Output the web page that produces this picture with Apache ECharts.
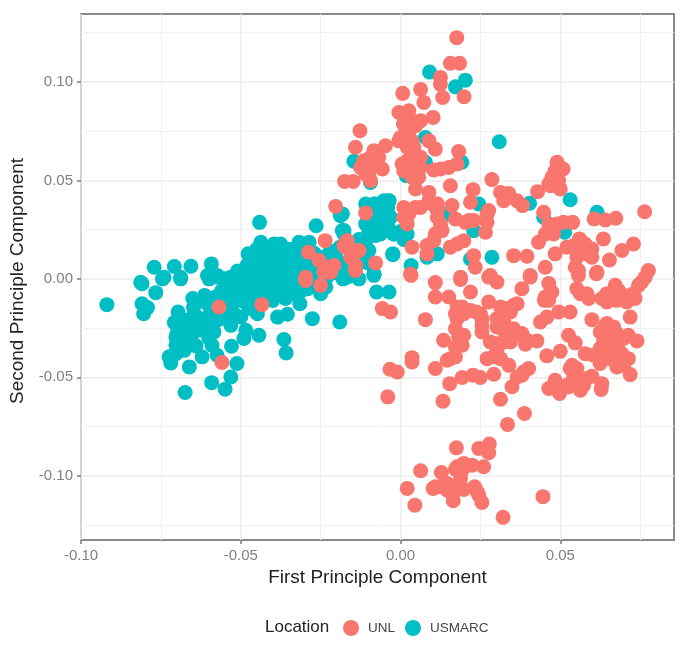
<!DOCTYPE html>
<html><head><meta charset="utf-8">
<style>html,body{margin:0;padding:0;background:#fff}#c{width:685px;height:653px;filter:blur(0.5px)}</style>
<script src="https://cdn.jsdelivr.net/npm/echarts@6/dist/echarts.min.js"></script>
</head><body><div id="c"></div>
<script>
const xMajor=[-0.10,-0.05,0,0.05];
const xMinor=[-0.075,-0.025,0.025,0.075];
const yMajor=[-0.10,-0.05,0,0.05,0.10];
const yMinor=[-0.125,-0.075,-0.025,0.025,0.075,0.125];
const seriesNames=['UNL','USMARC'];
const unl=[[.0176,.1225],[.0156,.1095],[.0185,.1095],[.0125,.1023],[.0125,.0989],[.0199,.0925],[.0132,.0921],[.0007,.0942],[.0063,.0962],[.0073,.0896],[-.0005,.0845],[.0026,.0854],[.0102,.0820],[.0063,.0803],[.0031,.0794],[.0026,.0744],[-.0127,.0752],[-.0141,.0668],[-.0047,.0676],[-.0083,.0651],[0,.0718],[.0036,.0701],[.0089,.0701],[.0109,.0659],[.0182,.0647],[-.0115,.0600],[-.0057,.0558],[-.0099,.0541],[-.0094,.0499],[-.0148,.0495],[-.0175,.0495],[.0005,.0583],[.0010,.0549],[.0042,.0617],[.0057,.0566],[.0057,.0516],[.0104,.0553],[.0151,.0566],[.0177,.0583],[.0156,.0473],[.0047,.0456],[.0089,.0439],[.0227,.0453],[.0219,.0389],[.0286,.0504],[.0313,.0439],[.0339,.0434],[.0323,.0397],[.0365,.0397],[.0382,.0372],[.0429,.0443],[.0490,.0592],[.0509,.0558],[.0474,.0516],[.0464,.0482],[.0500,.0456],[.0448,.0338],[.0764,.0341],[.0606,.0304],[.0641,.0299],[.0674,.0308],[.0510,.0287],[.0539,.0287],[.0469,.0245],[.0432,.0186],[.0479,.0228],[.0560,.0203],[.0635,.0203],[.0521,.0161],[.0563,.0152],[.0599,.0152],[.0484,.0127],[.0729,.0177],[.0693,.0144],[.0654,.0096],[.0599,.0110],[.0547,.0059],[.0776,.0042],[.0615,.0034],[.0453,.0059],[.0406,.0017],[.0354,.0118],[.0396,.0115],[.0281,.0017],[.0229,.0118],[.0234,.0059],[.0188,.0008],[.0198,.0194],[.0156,.0161],[.0276,.0347],[.0271,.0287],[.0266,.0237],[.0229,.0296],[.0203,.0287],[.0172,.0304],[.0161,.0372],[.0115,.0381],[.0115,.0313],[.0130,.0245],[.0104,.0194],[.0083,.0169],[.0083,.0127],[.0036,.0161],[.0063,.0363],[.0010,.0363],[.0021,.0279],[-.0109,.0335],[.0031,.0025],
[-.0203,.0368],[-.0236,.0194],[-.0288,.0135],[-.0255,.0093],[-.0229,.0059],[-.0208,.0068],[-.0172,.0161],[-.0141,.0135],[-.0156,.0110],[-.0141,.0068],[-.0078,.0081],[-.0297,.0008],[-.0177,.0169],[-.0130,.0144],[-.0167,.0194],[-.0156,.0152],
[-.0568,-.0143],[-.0434,-.0131],[-.0559,-.0425],[-.0297,-.0008],[-.0250,-.0033],[-.0240,.0034],[-.0219,.0034],[-.0141,.0043],[-.0057,-.0151],[-.0031,-.0168],[-.0033,-.0459],[-.0010,-.0473],[-.0040,-.0599],
[.0033,.0018],[.0036,-.0400],[.0036,-.0422],[.0109,-.0019],[.0109,-.0092],[.0151,-.0092],[.0188,-.0003],[.0219,-.0067],[.0276,.0009],[.0302,-.0016],[.0380,-.0050],[.0406,.0009],[.0464,-.0024],[.0474,-.0067],[.0450,-.0109],[.0557,.0018],[.0613,.0026],[.0552,-.0050],[.0589,-.0100],[.0630,-.0100],[.0672,-.0033],[.0667,-.0084],[.0698,-.0084],[.0734,-.0100],[.0745,-.0033],[.0766,.0009],[.0719,-.0194],[.0740,-.0315],[.0599,-.0207],[.0641,-.0236],[.0667,-.0244],[.0625,-.0270],[.0661,-.0295],[.0713,-.0286],[.0698,-.0303],[.0531,-.0168],[.0495,-.0168],[.0458,-.0194],[.0438,-.0219],[.0526,-.0286],[.0547,-.0325],[.0500,-.0368],[.0458,-.0391],[.0578,-.0380],[.0620,-.0396],[.0646,-.0362],[.0682,-.0362],[.0713,-.0405],[.0677,-.0447],[.0719,-.0486],[.0693,-.0380],[.0531,-.0455],[.0552,-.0455],[.0599,-.0494],[.0552,-.0515],[.0573,-.0540],[.0563,-.0565],[.0630,-.0532],[.0628,-.0562],[.0484,-.0515],[.0464,-.0557],[.0498,-.0582],[.0526,-.0548],[.0276,-.0117],[.0313,-.0143],[.0365,-.0126],[.0344,-.0168],[.0323,-.0211],[.0302,-.0244],[.0354,-.0253],[.0380,-.0278],[.0427,-.0315],[.0391,-.0332],[.0344,-.0320],[.0302,-.0329],[.0292,-.0396],[.0313,-.0405],[.0339,-.0439],[.0401,-.0455],[.0380,-.0489],[.0349,-.0548],[.0313,-.0611],[.0133,-.0621],[.0388,-.0684],[.0335,-.0739],[.0292,-.0484],[.0250,-.0501],[.0227,-.0489],[.0193,-.0501],[.0154,-.0532],[.0109,-.0455],[.0146,-.0413],[.0172,-.0396],[.0193,-.0337],[.0135,-.0312],[.0198,-.0286],[.0172,-.0253],[.0177,-.0202],[.0193,-.0143],[.0237,-.0168],[.0255,-.0202],[.0255,-.0270],[.0078,-.0207],
[.0175,-.0858],[.0245,-.0861],[.0278,-.0839],[.0276,-.0883],[.0198,-.0937],[.0172,-.0966],[.0260,-.0954],[.0224,-.0946],[.0063,-.0974],[.0128,-.0983],[.0188,-.1013],[.0021,-.1064],[.0102,-.1064],[.0125,-.1056],[.0146,-.1073],[.0198,-.1069],[.0232,-.1056],[.0165,-.1127],[.0245,-.1098],[.0255,-.1135],[.0045,-.1149],[.0446,-.1106],[.0321,-.1211],
[-.0125,.0566],[-.0109,.0532],[-.0083,.0600],[-.0068,.0617],[-.0094,.0617],[.0021,.0668],[.0042,.0668],[.0021,.0600],[.0036,.0566],[.0063,.0617],[.0063,.0566],[.0010,.0701],[-.0005,.0701],[.0026,.0820],[.0047,.0778],[.0010,.0786],[.0036,.0516],[.0125,.0558],[.0484,.0549],[.0495,.0499],[.0469,.0473],[.0099,.0380],[.0089,.0397],[.0047,.0363],[.0026,.0330],[.0010,.0313],[.0115,.0347],[.0125,.0279],[.0109,.0228],[.0177,.0177],[.0271,.0330],[.0214,.0296],[.0464,.0279],[.0453,.0228],[.0490,.0279],[.0542,.0169],[.0578,.0177],[.0583,.0127],[.0552,.0110],[.0557,.0042],
[.0563,-.0075],[.0583,-.0075],[.0646,-.0075],[.0682,-.0058],[.0708,-.0117],[.0729,-.0075],[.0755,-.0016],[.0646,-.0117],[.0677,-.0109],[.0464,-.0109],[.0646,-.0227],[.0677,-.0278],[.0646,-.0278],[.0635,-.0320],[.0661,-.0337],[.0625,-.0354],[.0604,-.0388],[.0635,-.0396],[.0682,-.0405],[.0698,-.0439],[.0656,-.0405],[.0625,-.0430],[.0542,-.0498],[.0521,-.0540],[.0583,-.0506],[.0490,-.0548],[.0537,-.0439],[.0281,-.0320],[.0323,-.0320],[.0365,-.0286],[.0396,-.0312],[.0302,-.0363],[.0271,-.0405],[.0323,-.0261],[.0302,-.0202],[.0333,-.0151],[.0354,-.0134],[.0323,-.0177],[.0385,-.0473],[.0365,-.0498],[.0172,-.0177],[.0198,-.0177],[.0177,-.0143],[.0255,-.0236],[.0172,-.0346],[.0182,-.0295],[.0156,-.0405],[.0250,-.0177],[.0219,-.0160],[.0453,-.0092],[.0177,-.0954],[.0193,-.0971],[.0188,-.1056],[.0172,-.1073],[.0109,-.1056],[.0146,-.1039],[.0240,-.1081]];
const usmarc=[[-.0441,.0287],[-.0264,.0270],[-.0188,.0321],[-.0182,.0245],[-.0109,.0380],[-.0078,.0380],[-.0036,.0397],[-.0109,.0279],[-.0057,.0330],[-.0063,.0228],[-.0021,.0228],[-.0109,.0194],[-.0024,.0123],[-.0083,.0025],[-.0146,.0597],[-.0094,.0490],[-.0437,.0186],[-.0396,.0177],[-.0375,.0177],[-.0318,.0186],[-.0286,.0186],[-.0477,.0127],[-.0437,.0110],[-.0411,.0076],[-.0354,.0059],[-.0375,.0110],[-.0333,.0110],[-.0771,.0059],[-.0708,.0063],[-.0656,.0064],[-.0592,.0076],[-.0604,.0017],[-.0573,.0017],[-.0813,-.0017],[-.0740,.0008],[-.0688,.0008],[-.0510,.0008],[-.0479,.0025],[-.0448,.0008],[-.0333,.0025],[-.0271,.0042],[-.0229,.0059],[-.0177,.0076],[-.0156,.0144],[-.0104,.0144],[-.0177,.0228],
[-.0809,-.0025],[-.0766,-.0070],[-.0919,-.0131],[-.0809,-.0126],[-.0792,-.0146],[-.0804,-.0177],[-.0745,0],[-.0688,0],[-.0599,0],[-.0613,-.0084],[-.0648,-.0146],[-.0696,-.0168],[-.0708,-.0222],[-.0677,-.0210],[-.0646,-.0227],[-.0615,-.0202],[-.0688,-.0278],[-.0656,-.0295],[-.0703,-.0337],[-.0677,-.0363],[-.0724,-.0396],[-.0719,-.0427],[-.0661,-.0447],[-.0621,-.0396],[-.0590,-.0337],[-.0584,-.0269],[-.0574,-.0210],[-.0574,-.0388],[-.0512,-.0430],[-.0531,-.0498],[-.0591,-.0527],[-.0549,-.0560],[-.0674,-.0577],[-.0529,-.0342],[-.0490,-.0303],[-.0443,-.0286],[-.0484,-.0261],[-.0531,-.0236],[-.0500,-.0193],[-.0552,-.0160],[-.0531,-.0126],[-.0578,-.0092],[-.0542,-.0058],[-.0510,-.0025],[-.0479,0],[-.0479,-.0092],[-.0448,-.0177],[-.0448,-.0058],[-.0406,-.0058],[-.0417,-.0101],[-.0385,-.0194],[-.0354,-.0180],[-.0365,-.0308],[-.0358,-.0376],[-.0276,-.0202],[-.0190,-.0219],[-.0315,-.0126],[-.0333,-.0075],[-.0375,-.0058],[-.0365,-.0008],[-.0333,-.0008],[-.0396,.0009],[-.0437,-.0008],[-.0500,.0009],[-.0573,.0009],[-.0250,-.0075],[-.0234,-.0042],[-.0167,.0009],[-.0130,0],[-.0083,.0018],[-.0075,-.0067],[-.0036,-.0067],
[.0091,.1050],[.0203,.1009],[.0172,.0975],[.0309,.0696],[.0531,.0402],[.0404,.0384],[.0615,.0338],[.0514,.0237],[.0286,.0110],[.0219,.0101],[.0245,.0380],[.0229,.0245],[.0448,.0313],[.0115,.0127],[.0083,.0110],[.0033,.0068],[-.0024,.0127],[-.0083,.0025],[.0078,.0718],[.0010,.0786],[.0078,.0592],[.0192,.0592],[.0018,.0524],[-.0083,.0380],[-.0052,.0397],[-.0036,.0397],[-.0057,.0330],[-.0031,.0313],[-.0052,.0262],[-.0078,.0220],[-.0115,.0194],[-.0021,.0228],[.0021,.0228],[-.0099,.0144],[-.0177,.0245],[-.0182,.0330],[.0146,.0330],
[-.0450,.0150],[-.0420,.0140],[-.0390,.0120],[-.0350,.0150],[-.0310,.0130],[-.0300,.0080],[-.0280,.0060],[-.0320,.0040],[-.0370,.0040],[-.0400,.0030],[-.0430,.0040],[-.0480,.0070],[-.0510,.0040],[-.0460,-.0030],[-.0440,-.0100],[-.0500,-.0080],[-.0530,-.0150],[-.0470,-.0150],[-.0390,-.0020],[-.0350,-.0040],[-.0300,-.0030],[-.0270,-.0010],[-.0230,.0010],[-.0200,.0030],[-.0180,0],[-.0150,.0030],[-.0130,.0080],[-.0100,.0080],[-.0120,.0120],[-.0610,-.0120],[-.0640,-.0190],[-.0660,-.0250],[-.0620,-.0260],[-.0600,-.0300],[-.0700,-.0280],[-.0690,-.0320],[-.0640,-.0340],[-.0650,-.0100],
[-.0698,-.0244],[-.0667,-.0253],[-.0635,-.0261],[-.0703,-.0295],[-.0672,-.0320],[-.0703,-.0380],[-.0646,-.0177],[-.0688,-.0202],[-.0604,-.0244],[-.0594,-.0160],[-.0590,-.0130],[-.0560,-.0060],[-.0540,-.0100],[-.0560,-.0200],[-.0520,-.0180],[-.0470,-.0040],[-.0500,-.0110],[-.0430,-.0040],[-.0420,0],[-.0460,.0040],[-.0490,.0040],[-.0530,.0010],[-.0550,0],[-.0460,-.0080],[-.0480,-.0130],[-.0400,-.0110],[-.0360,-.0100],[-.0340,-.0020],[-.0310,-.0060],[-.0290,-.0050],[-.0290,.0020],[-.0330,.0060],[-.0360,.0090],[-.0400,.0080],[-.0380,.0150],[-.0420,.0080],[-.0450,.0090],[-.0460,.0120],[-.0260,.0030],[-.0240,.0110],[-.0270,.0130],[-.0200,.0100],[-.0220,.0140],[-.0190,.0160],[-.0150,.0180],[-.0130,.0200],[-.0100,.0230],[-.0080,.0280],[-.0090,.0330],[-.0070,.0260],[-.0040,.0270],[-.0030,.0240],[0,.0240],[-.0040,.0360],[-.0080,.0300],[.0010,.0200]];

const FONT='"Liberation Sans",Arial,sans-serif';
const xRange=[-0.1,0.0856], yRange=[-0.1326,0.1345];
const chart=echarts.init(document.getElementById('c'));
const minorAxis=(customValues)=>({
  axisLine:{show:false,onZero:false},
  axisTick:{show:false,customValues},
  axisLabel:{show:false,customValues},
  splitLine:{show:true,lineStyle:{color:'#f1f1f1',width:1}}
});
const majorTick={show:true,length:4,lineStyle:{color:'#7a7a7a',width:1.5}};
chart.setOption({
  animation:false,
  backgroundColor:'#fff',
  grid:{left:81,right:11,top:14,bottom:113,show:true,borderColor:'#8a8a8a',borderWidth:2,backgroundColor:'transparent'},
  xAxis:[
    {type:'value',min:xRange[0],max:xRange[1],position:'bottom',
     name:'First Principle Component',nameLocation:'middle',nameGap:27,
     nameTextStyle:{fontFamily:FONT,fontSize:19,color:'#222'},
     axisLine:{show:false,onZero:false},
     axisTick:{...majorTick,customValues:xMajor},
     axisLabel:{customValues:xMajor,margin:8,fontFamily:FONT,fontSize:15,color:'#808080',formatter:v=>v.toFixed(2)},
     splitLine:{show:true,lineStyle:{color:'#ececec',width:1.5}}},
    {type:'value',min:xRange[0],max:xRange[1],position:'top',...minorAxis(xMinor)}
  ],
  yAxis:[
    {type:'value',min:yRange[0],max:yRange[1],position:'left',
     name:'Second Principle Component',nameLocation:'middle',nameGap:54,
     nameTextStyle:{fontFamily:FONT,fontSize:19,color:'#222',padding:[0,8,0,0]},
     axisLine:{show:false,onZero:false},
     axisTick:{...majorTick,customValues:yMajor},
     axisLabel:{customValues:yMajor,margin:8,fontFamily:FONT,fontSize:15,color:'#808080',formatter:v=>v.toFixed(2)},
     splitLine:{show:true,lineStyle:{color:'#ececec',width:1.5}}},
    {type:'value',min:yRange[0],max:yRange[1],position:'right',...minorAxis(yMinor)}
  ],
  legend:{data:seriesNames,left:343,top:620,orient:'horizontal',padding:0,itemGap:10,itemWidth:16,itemHeight:16,icon:'circle',
    textStyle:{fontFamily:FONT,fontSize:13.5,color:'#444',padding:[0,0,0,4]}},
  graphic:[{type:'text',left:265,top:619,style:{text:'Location',font:'17px '+FONT,fill:'#222'}}],
  series:[
    {name:'USMARC',type:'scatter',data:usmarc,symbolSize:15,itemStyle:{color:'#00BFC4',opacity:1}},
    {name:'UNL',type:'scatter',data:unl,symbolSize:15,itemStyle:{color:'#F8766D',opacity:1}}
  ]
});
</script></body></html>
